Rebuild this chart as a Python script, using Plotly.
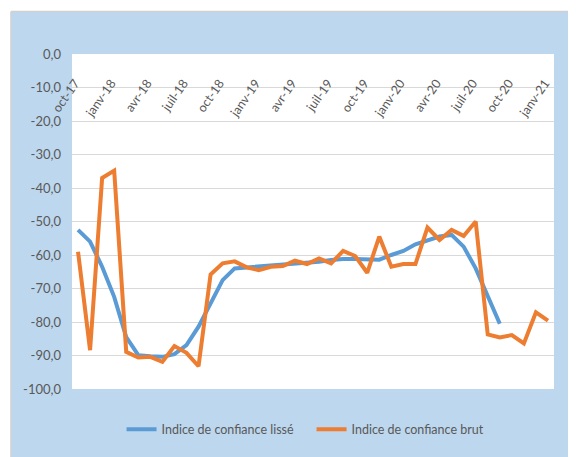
import plotly.graph_objects as go

# monthly, oct-17 .. janv-21
mois = ["oct-17", "nov-17", "déc-17", "janv-18", "févr-18", "mars-18", "avr-18", "mai-18", "juin-18",
        "juil-18", "août-18", "sept-18", "oct-18", "nov-18", "déc-18", "janv-19", "févr-19", "mars-19",
        "avr-19", "mai-19", "juin-19", "juil-19", "août-19", "sept-19", "oct-19", "nov-19", "déc-19",
        "janv-20", "févr-20", "mars-20", "avr-20", "mai-20", "juin-20", "juil-20", "août-20", "sept-20",
        "oct-20", "nov-20", "déc-20", "janv-21"]

lisse = [-52.5, -56.0, -63.5, -72.5, -84.5, -89.9, -90.2, -90.4, -89.6, -86.9,
         -81.4, -74.5, -67.5, -64.0, -63.7, -63.5, -63.3, -63.0, -62.7, -62.5,
         -62.0, -61.5, -61.2, -61.2, -61.4, -61.4, -60.0, -58.8, -56.8, -55.5,
         -54.5, -54.0, -57.5, -64.0, -72.5, -80.5, None, None, None, None]

brut = [-59.0, -88.4, -37.0, -34.8, -88.9, -90.6, -90.4, -91.9, -87.2, -89.2,
        -93.2, -65.8, -62.5, -61.9, -63.7, -64.5, -63.5, -63.3, -61.7, -62.7,
        -61.0, -62.5, -58.8, -60.3, -65.3, -54.5, -63.5, -62.7, -62.7, -51.8,
        -55.5, -52.5, -54.3, -50.0, -83.7, -84.6, -83.9, -86.4, -77.1, -79.6]

y_ticks = [0, -10, -20, -30, -40, -50, -60, -70, -80, -90, -100]
y_labels = [f"{v},0" for v in y_ticks]

tick_pos = list(range(0, len(mois), 3))
tick_txt = [mois[i] for i in tick_pos]

x = list(range(len(mois)))
gris = "#595959"
police = "Lato, Roboto, sans-serif"

fig = go.Figure()
fig.add_trace(go.Scatter(x=x, y=lisse, mode="lines", name="Indice de confiance lissé",
                         line=dict(color="#5B9BD5", width=4)))
fig.add_trace(go.Scatter(x=x, y=brut, mode="lines", name="Indice de confiance brut",
                         line=dict(color="#ED7D31", width=4)))

# page body has an 8px margin, so the figure is 8px smaller than the window
fig.update_layout(
    width=568, height=449,
    margin=dict(l=64, r=22, t=46, b=64),
    paper_bgcolor="#BDD7EE", plot_bgcolor="white",
    font=dict(family=police, size=13, color=gris),
    showlegend=True,
    legend=dict(orientation="h", x=0.497, xanchor="center", y=-0.121, yanchor="middle",
                entrywidth=145, font=dict(size=12.5, color=gris), bgcolor="rgba(0,0,0,0)"),
    # category axis sits inside the plot, just under the 0 line
    xaxis=dict(range=[-0.5, len(mois) - 0.5], anchor="free", position=0.945, side="bottom",
               tickmode="array", tickvals=tick_pos, ticktext=tick_txt,
               tickangle=-55, ticklabelshift=-3, automargin=False,
               showgrid=False, zeroline=False, showline=False, ticks="",
               tickfont=dict(size=12.5, color=gris)),
    yaxis=dict(range=[-100, 0], tickmode="array", tickvals=y_ticks, ticktext=y_labels,
               automargin=False,
               showgrid=True, gridcolor="#D9D9D9", gridwidth=1, zeroline=False, showline=False,
               ticklabelstandoff=10, tickfont=dict(size=13, color=gris)),
    shapes=[
        # white strips top/left of the blue frame
        dict(type="rect", xref="paper", yref="paper", x0=-0.2, x1=1.2, y0=1.127, y1=1.2,
             fillcolor="white", line=dict(width=0), layer="above"),
        dict(type="rect", xref="paper", yref="paper", x0=-0.2, x1=-0.1266, y0=-0.3, y1=1.2,
             fillcolor="white", line=dict(width=0), layer="above"),
        dict(type="line", xref="paper", yref="paper", x0=-0.1266, x1=1.2, y0=1.127, y1=1.127,
             line=dict(color="#D0D0D0", width=1.5)),
        dict(type="line", xref="paper", yref="paper", x0=-0.1266, x1=-0.1266, y0=-0.3, y1=1.127,
             line=dict(color="#D0D0D0", width=1.5)),
    ],
)

fig.write_html("out.html")
